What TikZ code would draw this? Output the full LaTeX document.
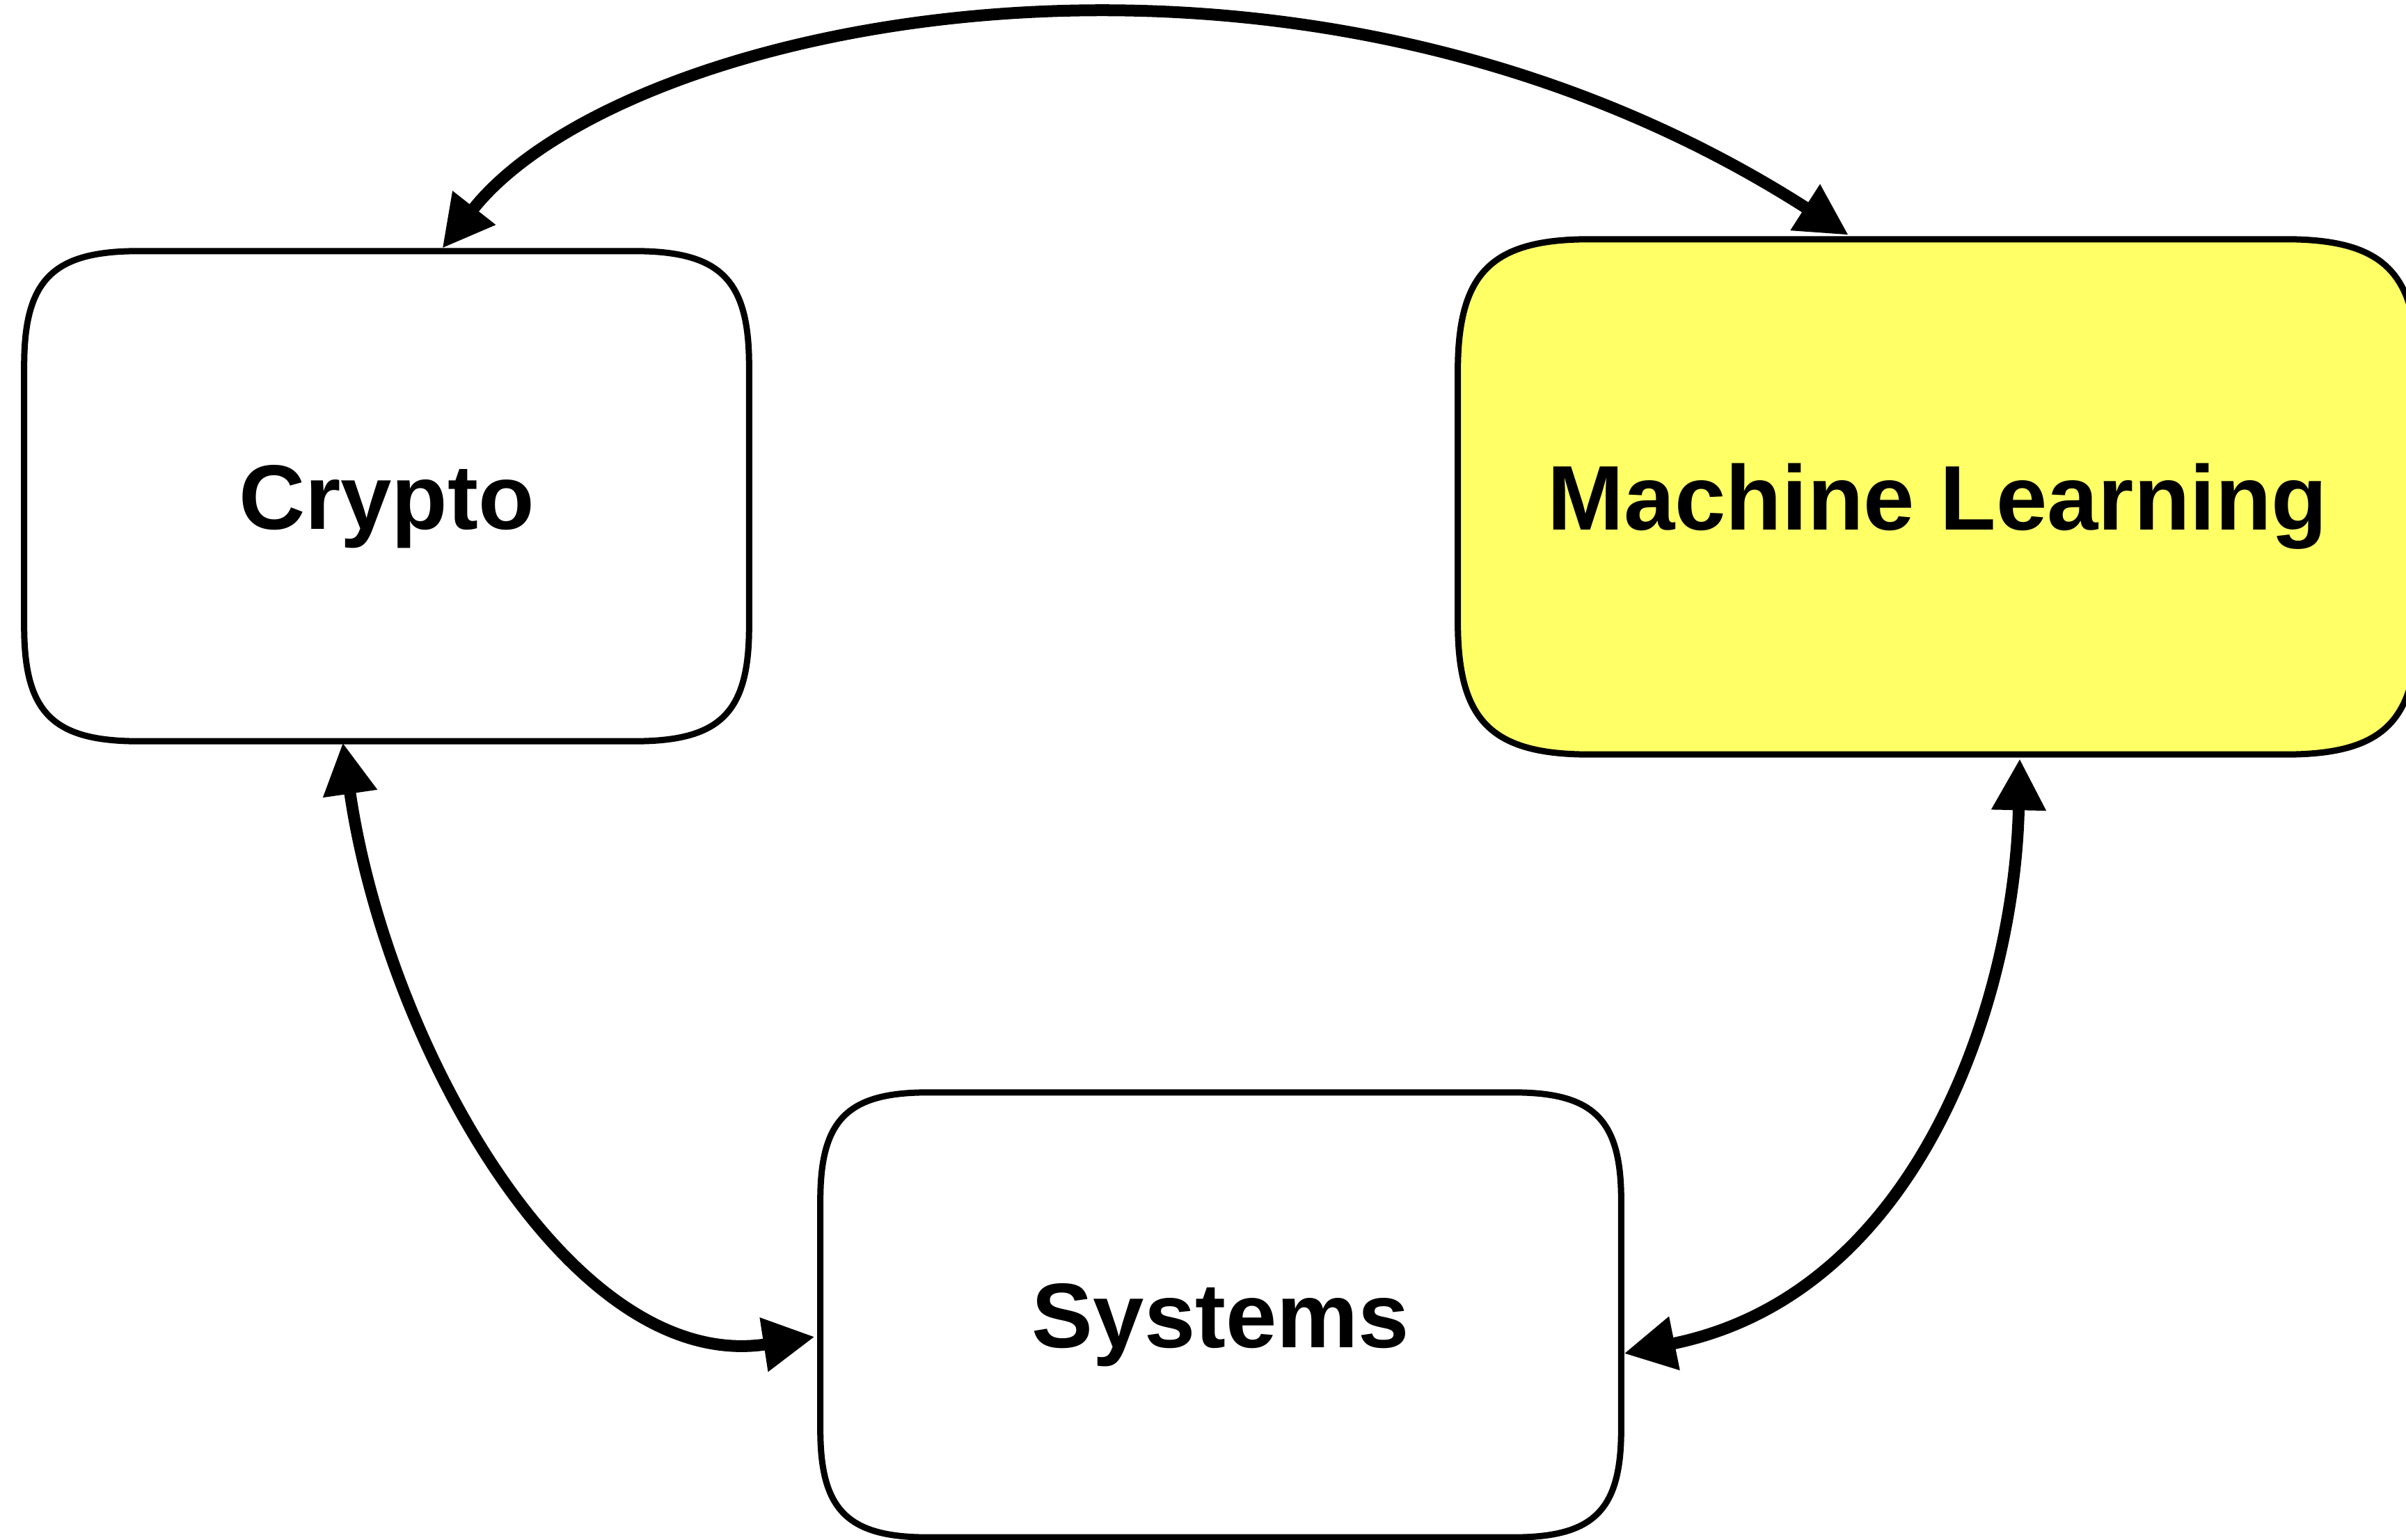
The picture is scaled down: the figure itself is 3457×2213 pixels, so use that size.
\documentclass[tikz,border=0pt]{standalone}
\usepackage{fontspec}
\setmainfont{Liberation Sans}
\usetikzlibrary{arrows.meta,calc,backgrounds}
\definecolor{mlyellow}{RGB}{255,255,102}
\newcommand\sqboxpath[4]{%
  \path[#4] ($(#1.north west)+(0,#2)$) .. controls ($(#1.north west)+(0,#3)$) and ($(#1.north west)+(#3,0)$) .. ($(#1.north west)+(#2,0)$)
  -- ($(#1.north east)+(-#2,0)$) .. controls ($(#1.north east)+(-#3,0)$) and ($(#1.north east)+(0,#3)$) .. ($(#1.north east)+(0,#2)$)
  -- ($(#1.south east)+(0,-#2)$) .. controls ($(#1.south east)+(0,-#3)$) and ($(#1.south east)+(-#3,0)$) .. ($(#1.south east)+(-#2,0)$)
  -- ($(#1.south west)+(#2,0)$) .. controls ($(#1.south west)+(#3,0)$) and ($(#1.south west)+(0,-#3)$) .. ($(#1.south west)+(0,-#2)$)
  -- cycle;}
\begin{document}
\begin{tikzpicture}[x=0.01cm, y=-0.01cm,
  boxnode/.style={rectangle, draw=none, inner sep=0pt, outer sep=0pt,
    font=\fontsize{37.5pt}{45pt}\selectfont\bfseries, text height=26.8pt, text depth=0pt},
  boxline/.style={draw=black, line width=0.09cm},
  link/.style={draw=black, line width=0.17cm,
    {Triangle[length=0.74cm,width=0.74cm]}-{Triangle[length=0.74cm,width=0.74cm]}}]
\useasboundingbox (0,0) rectangle (3457,2213);
\node[boxnode, minimum width=10.41cm, minimum height=7.04cm] (crypto) at (555.5,713) {Crypto};
\node[boxnode, minimum width=13.78cm, minimum height=7.40cm] (ml) at (2784,714) {Machine Learning};
\node[boxnode, minimum width=11.50cm, minimum height=6.39cm] (systems) at (1754,1889.5) {Systems};
\begin{scope}[on background layer]
  \fill[white] (0,0) rectangle (3457,2213);
  \sqboxpath{crypto}{165}{41}{boxline, fill=white}
  \sqboxpath{ml}{190}{48}{boxline, fill=mlyellow}
  \sqboxpath{systems}{155}{39}{boxline, fill=white}
\end{scope}
\draw[link] ($(crypto.north)+(80,-4)$) .. controls (895,27) and (1856,-175) .. ($(ml.north)+(-128,-6)$);
\draw[link] ($(crypto.south)+(-63,2)$) .. controls (555,1500) and (820,1975) .. ($(systems.west)+(-8,31.5)$);
\draw[link] ($(ml.south)+(118,6)$) .. controls (2895,1430) and (2760,1859) .. ($(systems.east)+(4,55.5)$);
\end{tikzpicture}
\end{document}
